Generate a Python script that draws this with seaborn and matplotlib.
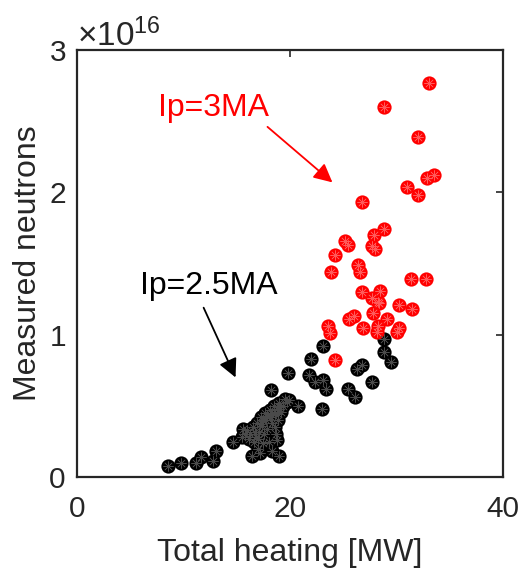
import numpy as np
import pandas as pd
import matplotlib
matplotlib.use("Agg")
import matplotlib.pyplot as plt
import seaborn as sns
from matplotlib.ticker import ScalarFormatter

# Ip = 3 MA shots: total heating [MW], neutrons [1e16]
heating_3ma = [33.1, 28.8, 32.0, 33.5, 32.9, 31.0, 32.0, 26.8, 28.8, 27.9,
               25.2, 25.5, 27.7, 28.0, 24.2, 26.4, 26.6, 23.9, 31.4, 32.8,
               26.8, 28.5, 27.7, 28.4, 30.3, 27.8, 31.5, 26.0, 25.6, 29.1,
               26.9, 28.3, 30.3, 30.1, 28.2, 23.6, 23.8, 24.2, 28.3]
neutrons_3ma = [2.77, 2.60, 2.39, 2.12, 2.10, 2.04, 1.98, 1.93, 1.74, 1.70,
                1.66, 1.63, 1.62, 1.60, 1.56, 1.49, 1.44, 1.44, 1.39, 1.39,
                1.30, 1.31, 1.26, 1.22, 1.21, 1.15, 1.18, 1.13, 1.11, 1.11,
                1.05, 1.06, 1.05, 1.02, 1.02, 1.06, 1.01, 0.82, 1.23]

# Ip = 2.5 MA shots
heating_25ma = [28.8, 28.8, 29.5, 23.1, 22.0, 26.8, 26.3, 19.8, 21.8, 22.4,
                23.1, 23.4, 27.7, 25.5, 26.1, 18.2, 20.8, 23.0, 19.9, 14.7,
                13.1, 12.8, 11.7, 11.2, 9.8, 8.6, 16.4, 17.2, 19.0, 18.3,
                18.8, 15.6, 15.5,
                16.0, 16.3, 16.5, 16.8, 16.9, 17.1, 17.3, 17.4, 17.6, 17.7,
                17.8, 17.9, 18.1, 18.2, 18.3, 18.7, 18.5, 18.6, 18.8, 18.9,
                19.0, 19.2, 19.5, 18.0, 17.5, 16.6, 17.0, 18.6, 19.4, 15.8,
                16.2, 16.7, 17.2, 17.5, 17.9, 18.3, 18.9, 19.1, 19.7, 17.0]
neutrons_25ma = [0.97, 0.88, 0.81, 0.92, 0.83, 0.79, 0.76, 0.73, 0.72, 0.67,
                 0.68, 0.62, 0.67, 0.62, 0.56, 0.61, 0.50, 0.48, 0.54, 0.25,
                 0.18, 0.11, 0.14, 0.10, 0.10, 0.08, 0.15, 0.17, 0.15, 0.18,
                 0.26, 0.34, 0.28,
                 0.33, 0.30, 0.35, 0.28, 0.38, 0.32, 0.42, 0.36, 0.30, 0.45,
                 0.40, 0.34, 0.47, 0.42, 0.38, 0.30, 0.50, 0.44, 0.48, 0.40,
                 0.52, 0.46, 0.55, 0.25, 0.24, 0.25, 0.20, 0.35, 0.50, 0.30,
                 0.27, 0.32, 0.37, 0.40, 0.43, 0.45, 0.44, 0.49, 0.53, 0.27]

x_ticks = [0, 20, 40]
y_ticks = [0, 1, 2, 3]

df_3 = pd.DataFrame({"heating": heating_3ma, "neutrons": np.array(neutrons_3ma) * 1e16})
df_25 = pd.DataFrame({"heating": heating_25ma, "neutrons": np.array(neutrons_25ma) * 1e16})

sns.set_style("white")
plt.rcParams['font.family'] = ['Liberation Sans', 'DejaVu Sans']
plt.rcParams['mathtext.fontset'] = 'custom'
plt.rcParams['mathtext.rm'] = 'Liberation Sans'

fig = plt.figure(figsize=(5.27, 5.68), dpi=100)
ax = fig.add_axes([0.146, 0.160, 0.808, 0.752])

txt = '#262626'

# filled circles with a faint asterisk on top, like the original
for df, col, star in [(df_25, 'black', '#4a4a4a'), (df_3, 'red', '#ff5a5a')]:
    sns.scatterplot(data=df, x="heating", y="neutrons", ax=ax, color=col,
                    s=105, linewidth=0, marker='o', zorder=3)
    sns.scatterplot(data=df, x="heating", y="neutrons", ax=ax, color=star,
                    s=50, linewidth=0.45, marker=(8, 2, 0), zorder=4,
                    edgecolor=star)

ax.set_xlim(0, 40)
ax.set_ylim(0, 3e16)
ax.set_xticks(x_ticks)
ax.set_yticks([v * 1e16 for v in y_ticks])

fmt = ScalarFormatter(useMathText=True)
fmt.set_powerlimits((0, 0))
ax.yaxis.set_major_formatter(fmt)
ax.yaxis.get_offset_text().set_fontsize(24)
ax.yaxis.get_offset_text().set_color(txt)

ax.tick_params(direction='in', length=5, width=1.2, colors=txt,
               labelsize=21.5, top=True, right=True)
ax.tick_params(axis='x', pad=13)
ax.tick_params(axis='y', pad=8)
for sp in ax.spines.values():
    sp.set_visible(True)
    sp.set_color(txt)
    sp.set_linewidth(1.6)

ax.set_xlabel('Total heating [MW]', fontsize=23, color=txt, labelpad=11)
ax.set_ylabel('Measured neutrons', fontsize=23, color=txt, labelpad=4)

ax.text(12.8, 2.59e16, 'Ip=3MA', color='red', fontsize=23,
        ha='center', va='center')
ax.annotate('', xy=(24.0, 2.07e16), xytext=(17.9, 2.46e16),
            arrowprops=dict(arrowstyle='-|>', color='red', lw=1.3,
                            mutation_scale=28, shrinkA=0, shrinkB=0))
ax.text(12.4, 1.34e16, 'Ip=2.5MA', color='black', fontsize=23,
        ha='center', va='center')
ax.annotate('', xy=(14.9, 0.70e16), xytext=(11.9, 1.19e16),
            arrowprops=dict(arrowstyle='-|>', color='black', lw=1.3,
                            mutation_scale=28, shrinkA=0, shrinkB=0))

fig.savefig('out.png', dpi=100, facecolor='white')
